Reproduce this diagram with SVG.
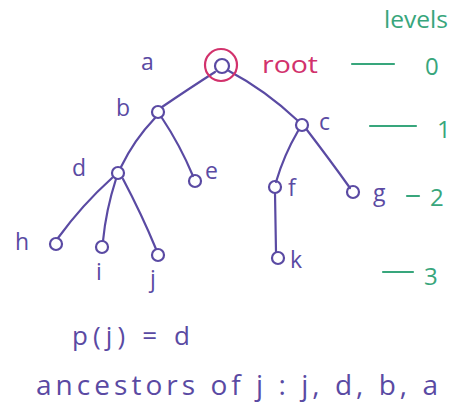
<svg xmlns="http://www.w3.org/2000/svg" width="461" height="409" viewBox="0 0 461 409">
<style>
.node{fill:none;stroke:#5a4aa3;stroke-width:2.2}
.edge{fill:none;stroke:#5a4aa3;stroke-width:2.2;stroke-linecap:round}
.lbl{font-family:"Open Sans","DejaVu Sans",sans-serif;font-size:23px;fill:#5a4aa3}
.lvl{font-family:"Open Sans","DejaVu Sans",sans-serif;font-size:24px;fill:#38a67c}
.dash{stroke:#38a67c;stroke-width:2.2;stroke-linecap:round}
</style>
<rect width="461" height="409" fill="#ffffff"/>
<g id="connectors">
<path class="edge" d="M215,72 Q190,88 162,107"/>
<path class="edge" d="M229,71 Q265,90 297,120"/>
<path class="edge" d="M155,118 Q134,140 121,167"/>
<path class="edge" d="M162,118 Q180,145 193,176"/>
<path class="edge" d="M112,178 Q82,205 58,238"/>
<path class="edge" d="M116,179 Q106,210 103,241"/>
<path class="edge" d="M123,179 Q142,215 156,249"/>
<path class="edge" d="M298,131 Q284,155 276,182"/>
<path class="edge" d="M307,130 Q330,160 350,188"/>
<path class="edge" d="M275,193 L276,252"/>
</g>
<g id="node-a"><circle class="node" cx="222" cy="66" r="7"/><circle cx="221" cy="65" r="16" fill="none" stroke="#d2326c" stroke-width="2.2"/><text class="lbl" x="141" y="70">a</text><text x="262" y="73" textLength="56" lengthAdjust="spacingAndGlyphs" font-family="'Open Sans','DejaVu Sans',sans-serif" font-size="24" fill="#d2326c">root</text></g>
<g id="node-b"><circle class="node" cx="158" cy="112" r="6"/><text class="lbl" x="116" y="116">b</text></g>
<g id="node-c"><circle class="node" cx="302" cy="125" r="6"/><text class="lbl" x="319" y="130">c</text></g>
<g id="node-d"><circle class="node" cx="118" cy="173" r="6"/><text class="lbl" x="72" y="176">d</text></g>
<g id="node-e"><circle class="node" cx="195" cy="181" r="6"/><text class="lbl" x="205" y="179">e</text></g>
<g id="node-f"><circle class="node" cx="275" cy="187" r="6"/><text class="lbl" x="288" y="196">f</text></g>
<g id="node-g"><circle class="node" cx="353" cy="192" r="6"/><text class="lbl" x="373" y="201">g</text></g>
<g id="node-h"><circle class="node" cx="56" cy="244" r="6"/><text class="lbl" x="15" y="250">h</text></g>
<g id="node-i"><circle class="node" cx="102" cy="247" r="6"/><text class="lbl" x="96" y="280">i</text></g>
<g id="node-j"><circle class="node" cx="158" cy="255" r="6"/><text class="lbl" x="150" y="287">j</text></g>
<g id="node-k"><circle class="node" cx="278" cy="258" r="6"/><text class="lbl" x="290" y="268">k</text></g>
<g id="levels">
<text class="lvl" x="384" y="28" textLength="64" lengthAdjust="spacingAndGlyphs">levels</text>
<line class="dash" x1="352" y1="64" x2="394" y2="64"/><text class="lvl" x="425" y="75">0</text>
<line class="dash" x1="370" y1="126" x2="416" y2="126"/><text class="lvl" x="437" y="138">1</text>
<line class="dash" x1="407" y1="196" x2="419" y2="196"/><text class="lvl" x="430" y="206">2</text>
<line class="dash" x1="383" y1="272" x2="413" y2="272"/><text class="lvl" x="424" y="285">3</text>
</g>
<g id="notes">
<text class="lbl" x="72" y="345" textLength="118" lengthAdjust="spacing" style="font-size:26px">p(j) = d</text>
<text class="lbl" x="36" y="395" textLength="402" lengthAdjust="spacing" style="font-size:28px">ancestors of j : j, d, b, a</text>
</g>
</svg>
